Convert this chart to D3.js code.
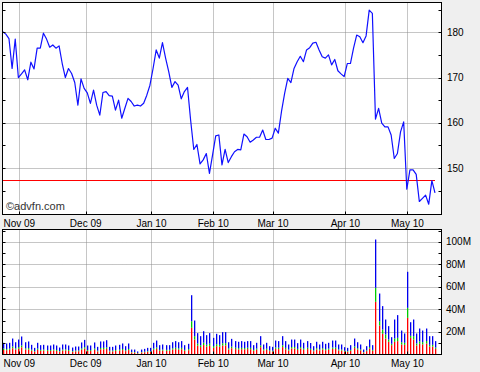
<!DOCTYPE html>
<html>
<head>
<meta charset="utf-8">
<script src="https://cdn.jsdelivr.net/npm/d3@7"></script>
<style>
  html, body { margin: 0; padding: 0; background: #efefef; }
  svg { display: block; font-family: "Liberation Sans", Arial, sans-serif; }
</style>
</head>
<body>
<div id="chart"></div>
<script>
// daily closes, Oct 23 2009 .. May 13 2010
var closes = [
  180.1, 179.6, 178.6, 172.0, 178.5, 170.0, 170.8, 171.7, 169.5, 173.4,
  171.9, 176.5, 176.5, 179.8, 178.5, 176.7, 177.2, 176.5, 177.0, 173.1,
  170.0, 172.0, 170.9, 168.9, 163.9, 169.7, 167.6, 166.6, 164.3, 167.2,
  163.9, 161.7, 166.7, 166.9, 166.0, 165.9, 162.8, 165.0, 161.0, 163.2,
  165.4, 164.7, 163.7, 163.9, 163.7, 164.3, 166.1, 168.3, 172.0, 176.1,
  174.3, 177.7, 174.3, 171.3, 167.8, 169.1, 168.3, 165.3, 166.9, 167.8,
  160.5, 154.1, 155.2, 150.9, 151.8, 153.2, 148.8, 152.9, 157.1, 157.3,
  150.7, 154.1, 151.2, 152.5, 153.6, 154.1, 154.0, 157.5, 156.9, 155.7,
  156.2, 156.8, 156.8, 158.4, 156.3, 156.3, 156.6, 158.8, 157.7, 162.5,
  166.5, 169.8, 168.9, 172.0, 173.5, 174.7, 173.5, 176.1, 176.6, 177.6,
  177.8, 176.1, 174.6, 174.3, 175.0, 172.8, 174.0, 171.5, 170.8, 170.2,
  173.1, 173.1, 176.5, 179.4, 179.0, 177.7, 179.2, 184.9, 184.2, 160.8,
  163.2, 159.9, 159.1, 159.1, 157.3, 152.1, 153.2, 158.0, 160.2, 145.3,
  149.6, 149.6, 148.6, 142.6, 143.3, 144.0, 142.0, 147.2, 144.5
];

// volume in millions, split in three stacked parts
var volRed = [
  4.0, 3.8, 4.2, 5.6, 4.3, 5.2, 6.4, 4.4, 4.5, 3.4,
  2.4, 4.1, 3.3, 3.5, 3.2, 3.1, 3.6, 3.2, 2.5, 3.5,
  3.6, 3.2, 2.4, 2.8, 2.9, 4.3, 5.2, 3.2, 3.1, 4.2,
  2.7, 4.6, 4.7, 5.0, 2.7, 2.8, 3.2, 3.4, 3.9, 3.0,
  3.9, 1.8, 1.7, 1.1, 1.8, 2.0, 2.4, 2.3, 4.2, 5.0,
  3.3, 3.5, 3.3, 3.4, 4.4, 4.8, 4.3, 4.7, 3.3, 3.8,
  23.7, 13.3, 7.8, 6.6, 8.4, 7.0, 7.7, 6.0, 7.4, 6.9,
  8.0, 8.1, 4.4, 5.6, 4.8, 4.5, 4.7, 4.6, 4.8, 4.7,
  3.3, 4.2, 6.5, 3.6, 4.1, 3.0, 2.7, 5.0, 4.8, 6.6,
  4.7, 3.5, 5.3, 5.4, 4.0, 5.3, 4.2, 4.8, 4.1, 2.9,
  4.5, 3.6, 4.5, 3.8, 4.2, 5.0, 4.9, 3.6, 3.5, 2.6,
  2.4, 3.3, 5.7, 4.4, 3.6, 1.8, 3.0, 5.3, 3.3, 46.8,
  25.8, 18.4, 14.2, 11.3, 8.3, 11.3, 11.9, 8.9, 8.6, 32.6,
  14.8, 13.3, 8.0, 9.5, 9.0, 9.8, 7.0, 7.0, 5.0
];
var volGreen = [
  1.2, 1.0, 1.0, 1.5, 1.1, 1.4, 1.6, 1.1, 1.2, 0.9,
  0.6, 1.1, 0.8, 0.9, 0.8, 0.8, 0.9, 0.8, 0.6, 0.9,
  0.9, 0.8, 0.6, 0.7, 0.7, 1.1, 1.3, 0.8, 0.8, 1.1,
  0.7, 1.2, 1.2, 1.3, 0.7, 0.7, 0.8, 0.9, 1.0, 0.7,
  1.0, 0.4, 0.5, 0.3, 0.4, 0.5, 0.6, 0.6, 1.0, 1.2,
  0.8, 0.9, 0.8, 0.8, 1.1, 1.2, 1.1, 1.2, 0.8, 1.0,
  5.9, 3.0, 1.9, 1.6, 2.1, 1.7, 1.9, 1.5, 1.8, 1.7,
  2.0, 2.0, 1.1, 1.4, 1.2, 1.1, 1.2, 1.1, 1.2, 1.2,
  0.8, 1.0, 1.6, 0.9, 1.0, 0.7, 0.7, 1.2, 1.2, 1.6,
  1.2, 0.9, 1.3, 1.3, 1.0, 1.3, 1.0, 1.2, 1.0, 0.7,
  1.1, 0.9, 1.1, 1.0, 1.0, 1.2, 1.2, 0.9, 0.9, 0.7,
  0.6, 0.8, 1.4, 1.1, 0.9, 0.4, 0.7, 1.3, 0.8, 12.5,
  3.8, 3.8, 3.6, 2.0, 1.2, 2.9, 2.9, 2.0, 1.8, 8.9,
  1.8, 3.0, 1.8, 2.2, 2.0, 2.2, 1.6, 1.6, 1.2
];
var volBlue = [
  5.2, 5.0, 5.2, 7.1, 5.5, 6.7, 8.0, 5.4, 5.9, 4.3,
  2.9, 5.2, 4.2, 4.2, 4.0, 4.1, 4.4, 4.0, 3.1, 4.5,
  4.4, 4.0, 3.2, 3.6, 3.5, 5.3, 6.5, 4.0, 4.1, 5.4,
  3.4, 5.8, 5.7, 6.4, 3.4, 3.3, 4.0, 4.3, 4.9, 3.7,
  4.9, 2.2, 2.2, 1.3, 2.2, 2.5, 2.9, 3.0, 5.2, 6.2,
  4.2, 4.5, 4.2, 4.1, 5.4, 5.9, 5.5, 6.0, 4.2, 4.7,
  23.1, 13.9, 9.3, 8.1, 10.2, 8.5, 9.4, 7.3, 9.2, 8.6,
  9.9, 9.8, 5.4, 6.9, 5.9, 5.7, 6.0, 5.6, 5.9, 6.0,
  4.2, 5.2, 8.2, 4.4, 5.3, 3.7, 3.4, 6.2, 5.9, 8.1,
  6.0, 4.5, 6.7, 6.6, 5.1, 6.7, 5.2, 5.9, 5.1, 3.8,
  5.7, 4.4, 5.7, 4.7, 5.2, 6.2, 6.3, 4.4, 4.5, 3.2,
  2.9, 4.2, 7.1, 5.4, 4.4, 2.2, 3.7, 6.7, 4.2, 42.9,
  24.6, 20.8, 13.3, 11.9, 5.9, 16.9, 20.2, 10.4, 8.3, 32.0,
  12.1, 14.8, 8.9, 11.4, 10.3, 11.1, 7.7, 7.7, 5.7
];

// month ticks (position in trading days) and their labels
var monthPos = [5.3, 26.5, 47.5, 67.2, 86.3, 109.4, 129.2];
var monthLabels = ['Nov 09', 'Dec 09', 'Jan 10', 'Feb 10', 'Mar 10', 'Apr 10', 'May 10'];

var priceTicks = [150, 160, 170, 180];
var volTicks = [20, 40, 60, 80, 100];
var refLevel = 147.3;

var W = 480, H = 372;
var LEFT = 2.5, RIGHT = 441.5;
var P_TOP = 2.5, P_BOT = 214.5;
var V_TOP = 229.5, V_BOT = 354.5;

var svg = d3.select('#chart').append('svg')
  .attr('width', W)
  .attr('height', H)
;

var x = d3.scaleLinear().domain([0, closes.length - 1]).range([2.7, 435]);
var yP = d3.scaleLinear().domain([139.72, 186.59]).range([P_BOT, P_TOP]);
var yV = d3.scaleLinear().domain([0, 111.1]).range([V_BOT, V_TOP]);

function panel(top, bot) {
  svg.append('rect')
    .attr('x', LEFT).attr('y', top)
    .attr('width', RIGHT - LEFT).attr('height', bot - top)
    .attr('fill', '#fff')
  ;
}
panel(P_TOP, P_BOT);
panel(V_TOP, V_BOT);

function grid(top, bot, yScale, vals) {
  var g = svg.append('g')
    .attr('stroke', '#8c8c8c')
    .attr('stroke-dasharray', '1,1')
    .attr('stroke-width', 1)
  ;
  g.selectAll('line.v').data(monthPos).enter().append('line')
    .attr('x1', function(d) { return Math.round(x(d)) + 0.5; })
    .attr('x2', function(d) { return Math.round(x(d)) + 0.5; })
    .attr('y1', top).attr('y2', bot)
  ;
  g.selectAll('line.h').data(vals).enter().append('line')
    .attr('x1', LEFT).attr('x2', RIGHT)
    .attr('y1', function(d) { return Math.round(yScale(d)) + 0.5; })
    .attr('y2', function(d) { return Math.round(yScale(d)) + 0.5; })
  ;
}
grid(P_TOP, P_BOT, yP, priceTicks);
grid(V_TOP, V_BOT, yV, volTicks);

// reference level
svg.append('line')
  .attr('x1', LEFT).attr('x2', x(closes.length - 1))
  .attr('y1', Math.round(yP(refLevel)) + 0.5)
  .attr('y2', Math.round(yP(refLevel)) + 0.5)
  .attr('stroke', '#ff0000')
  .attr('stroke-width', 1.2)
;

// price line
var line = d3.line()
  .x(function(d, i) { return x(i); })
  .y(function(d) { return yP(d); })
;
svg.append('path')
  .datum(closes)
  .attr('d', line)
  .attr('fill', 'none')
  .attr('stroke', '#1010ff')
  .attr('stroke-width', 1.2)
  .attr('stroke-linejoin', 'round')
;

// stacked volume bars
var volRows = volRed.map(function(r, i) {
  return { red: r, green: volGreen[i], blue: volBlue[i] };
});
var stack = d3.stack().keys(['red', 'green', 'blue']);
var volColors = { red: '#ff0000', green: '#00cc00', blue: '#0000ee' };

svg.append('g').selectAll('g')
  .data(stack(volRows))
  .enter().append('g')
    .attr('fill', function(s) { return volColors[s.key]; })
  .selectAll('rect')
  .data(function(s) { return s; })
  .enter().append('rect')
    .attr('x', function(d, i) { return Math.round(x(i)); })
    .attr('width', 1.3)
    .attr('y', function(d) { return yV(d[1]); })
    .attr('height', function(d) { return yV(d[0]) - yV(d[1]); })
;

// frames and ticks
function frame(top, bot, yScale, minorVals) {
  svg.append('rect')
    .attr('x', LEFT).attr('y', top)
    .attr('width', RIGHT - LEFT).attr('height', bot - top)
    .attr('fill', 'none')
    .attr('stroke', '#000')
  ;
  var t = svg.append('g').attr('stroke', '#000');
  t.selectAll('line.l').data(minorVals).enter().append('line')
    .attr('x1', LEFT).attr('x2', LEFT + 3)
    .attr('y1', function(d) { return Math.round(yScale(d)) + 0.5; })
    .attr('y2', function(d) { return Math.round(yScale(d)) + 0.5; })
  ;
  t.selectAll('line.r').data(minorVals).enter().append('line')
    .attr('x1', RIGHT - 3).attr('x2', RIGHT)
    .attr('y1', function(d) { return Math.round(yScale(d)) + 0.5; })
    .attr('y2', function(d) { return Math.round(yScale(d)) + 0.5; })
  ;
  t.selectAll('line.b').data(monthPos).enter().append('line')
    .attr('x1', function(d) { return Math.round(x(d)) + 0.5; })
    .attr('x2', function(d) { return Math.round(x(d)) + 0.5; })
    .attr('y1', bot - 3).attr('y2', bot)
  ;
}
frame(P_TOP, P_BOT, yP, d3.range(145, 186, 5));
frame(V_TOP, V_BOT, yV, d3.range(10, 111, 10));

// axis labels
function monthText(baseY) {
  svg.append('g').selectAll('text')
    .data(monthLabels)
    .enter().append('text')
      .attr('x', function(d, i) { return x(monthPos[i]); })
      .attr('y', baseY)
      .attr('text-anchor', 'middle')
      .attr('font-size', '10px')
      .attr('fill', '#000')
      .text(function(d) { return d; })
  ;
}
monthText(226.5);
monthText(366.5);

svg.append('g').selectAll('text')
  .data(priceTicks)
  .enter().append('text')
    .attr('x', 447)
    .attr('y', function(d) { return yP(d) + 3.5; })
    .attr('font-size', '10px')
    .text(function(d) { return d; })
;
svg.append('g').selectAll('text')
  .data(volTicks)
  .enter().append('text')
    .attr('x', 446)
    .attr('y', function(d) { return yV(d) + 3.5; })
    .attr('font-size', '10px')
    .text(function(d) { return d + 'M'; })
;

svg.append('text')
  .attr('x', 6)
  .attr('y', 210)
  .attr('font-size', '11px')
  .attr('fill', '#333')
  .text('\u00a9advfn.com')
;
</script>
</body>
</html>
